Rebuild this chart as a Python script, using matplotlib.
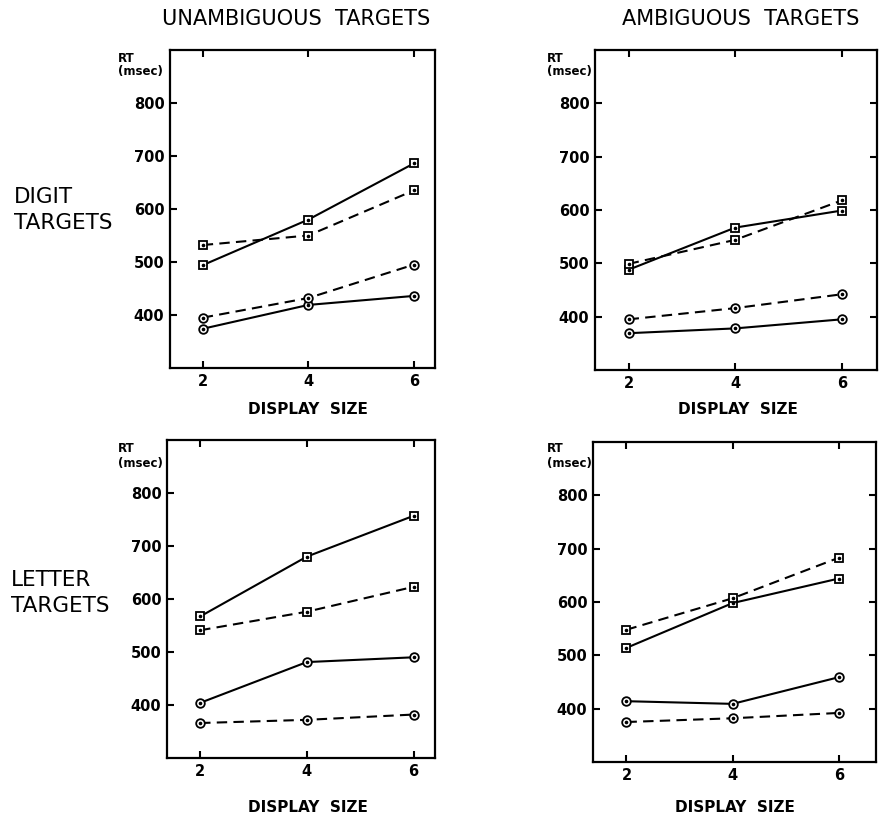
import matplotlib
matplotlib.use("Agg")
import matplotlib.pyplot as plt

W, H = 880, 818

display_sizes = [2, 4, 6]
y_ticks = [400, 500, 600, 700, 800]

# digit targets, unambiguous
digit_unamb_sq_solid = [494, 580, 686]
digit_unamb_sq_dash = [532, 550, 635]
digit_unamb_ci_solid = [374, 419, 436]
digit_unamb_ci_dash = [395, 432, 495]

# digit targets, ambiguous
digit_amb_sq_solid = [488, 567, 599]
digit_amb_sq_dash = [499, 544, 618]
digit_amb_ci_solid = [369, 378, 395]
digit_amb_ci_dash = [395, 416, 442]

# letter targets, unambiguous
letter_unamb_sq_solid = [567, 680, 757]
letter_unamb_sq_dash = [541, 576, 623]
letter_unamb_ci_solid = [404, 481, 490]
letter_unamb_ci_dash = [366, 372, 382]

# letter targets, ambiguous
letter_amb_sq_solid = [514, 598, 644]
letter_amb_sq_dash = [548, 607, 683]
letter_amb_ci_solid = [414, 409, 459]
letter_amb_ci_dash = [375, 382, 392]

FONT = "DejaVu Sans"
DASH = (0, (5, 3))


def px_rect(x0, y0, x1, y1):
    return [x0 / W, 1 - y1 / H, (x1 - x0) / W, (y1 - y0) / H]


def ftext(fig, x, y, s, **kw):
    fig.text(x / W, 1 - y / H, s, family=FONT, **kw)


def draw_panel(ax, sq_solid, sq_dash, ci_solid, ci_dash, xlim, right_ticks):
    series = [
        (sq_solid, "s", "-"),
        (sq_dash, "s", DASH),
        (ci_solid, "o", "-"),
        (ci_dash, "o", DASH),
    ]
    for vals, mk, ls in series:
        ax.plot(display_sizes, vals, color="black", lw=1.5, ls=ls,
                marker=mk, ms=6.2, mfc="white", mec="black", mew=1.3,
                zorder=3)
        # centre dot inside each marker
        ax.plot(display_sizes, vals, ls="none", marker="o", ms=1.6,
                color="black", zorder=4)

    ax.set_xlim(*xlim)
    ax.set_ylim(300, 900)
    ax.set_xticks(display_sizes)
    ax.set_yticks(y_ticks)
    ax.tick_params(direction="in", length=5, width=1.5, top=True,
                   right=right_ticks, labelsize=10.5, pad=4)
    for lab in ax.get_xticklabels() + ax.get_yticklabels():
        lab.set_fontweight("bold")
        lab.set_family(FONT)
    for sp in ax.spines.values():
        sp.set_linewidth(1.6)


fig = plt.figure(figsize=(W / 100, H / 100), dpi=100)

ax_tl = fig.add_axes(px_rect(170, 50, 435, 368))
ax_tr = fig.add_axes(px_rect(595, 50, 877, 370))
ax_bl = fig.add_axes(px_rect(167, 440, 435, 758))
ax_br = fig.add_axes(px_rect(593, 442, 876, 762))

draw_panel(ax_tl, digit_unamb_sq_solid, digit_unamb_sq_dash,
           digit_unamb_ci_solid, digit_unamb_ci_dash, (1.38, 6.4), False)
draw_panel(ax_tr, digit_amb_sq_solid, digit_amb_sq_dash,
           digit_amb_ci_solid, digit_amb_ci_dash, (1.37, 6.66), True)
draw_panel(ax_bl, letter_unamb_sq_solid, letter_unamb_sq_dash,
           letter_unamb_ci_solid, letter_unamb_ci_dash, (1.38, 6.4), False)
draw_panel(ax_br, letter_amb_sq_solid, letter_amb_sq_dash,
           letter_amb_ci_solid, letter_amb_ci_dash, (1.37, 6.7), True)

# column headings
ftext(fig, 296, 19, "UNAMBIGUOUS  TARGETS", fontsize=15, ha="center", va="center")
ftext(fig, 741, 19, "AMBIGUOUS  TARGETS", fontsize=15, ha="center", va="center")

# row headings
ftext(fig, 14, 210, "DIGIT\nTARGETS", fontsize=15.5, ha="left", va="center",
      linespacing=1.35)
ftext(fig, 11, 593, "LETTER\nTARGETS", fontsize=15.5, ha="left", va="center",
      linespacing=1.35)

# y-axis unit labels
for x, y in [(118, 65), (547, 65), (118, 456), (547, 456)]:
    ftext(fig, x, y, "RT\n(msec)", fontsize=8.5, fontweight="bold",
          ha="left", va="center", linespacing=1.1)

# x-axis titles
for x, y in [(308, 410), (738, 410), (308, 807), (735, 807)]:
    ftext(fig, x, y, "DISPLAY  SIZE", fontsize=11, fontweight="bold",
          ha="center", va="center")

fig.savefig("out.png", dpi=100)
